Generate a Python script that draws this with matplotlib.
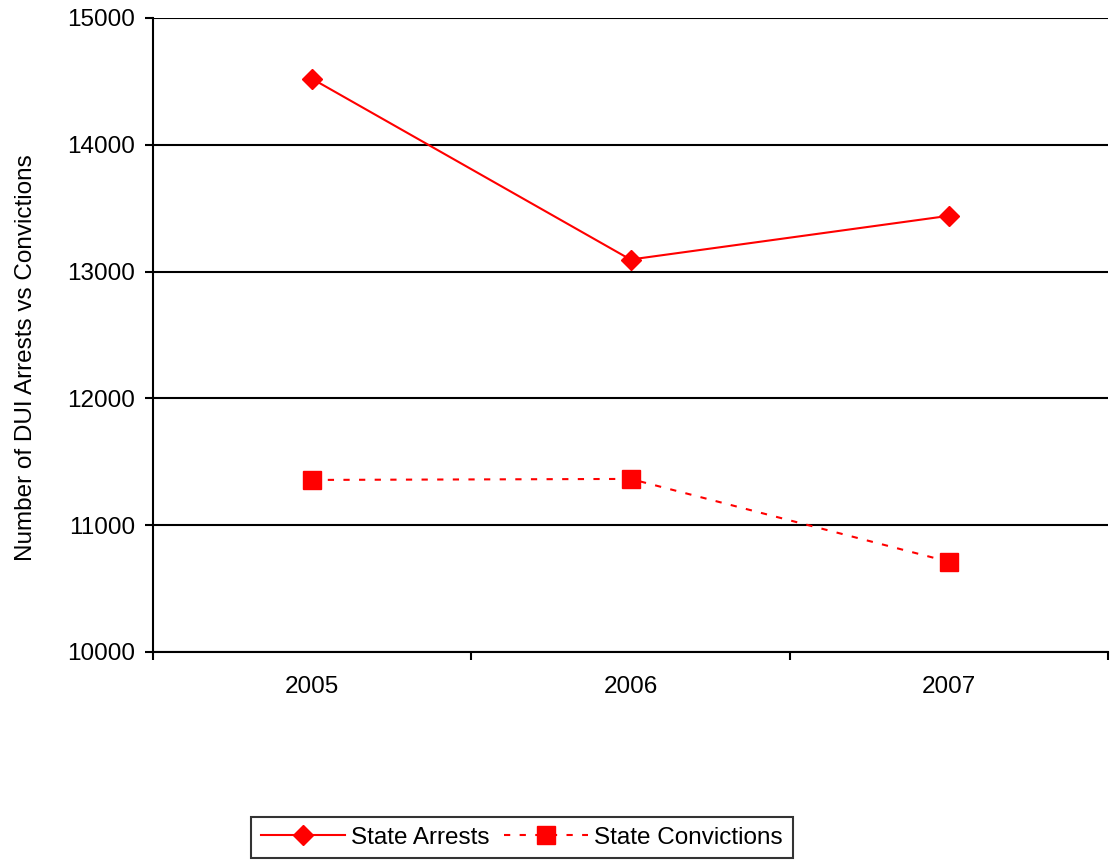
import matplotlib
matplotlib.use("Agg")
import matplotlib.pyplot as plt

plt.rcParams['font.family'] = ['Liberation Sans', 'DejaVu Sans']

years = ["2005", "2006", "2007"]
state_arrests = [14520, 13095, 13440]
state_convictions = [11357, 11365, 10712]
y_ticks = [10000, 11000, 12000, 13000, 14000, 15000]

FS = 17.5

fig = plt.figure(figsize=(11.1, 8.67), dpi=100)
ax = fig.add_axes([153 / 1110, 1 - 652 / 867, (1108 - 153) / 1110, (652 - 18) / 867])

x = list(range(len(years)))
red = "#ff0000"
ax.plot(x, state_arrests, color=red, lw=1.5, marker="D", markersize=10.5,
        markeredgecolor=red, markerfacecolor=red, label="State Arrests", zorder=3)
ax.plot(x, state_convictions, color=red, lw=1.5, linestyle=(0, (3, 4.5)),
        marker="s", markersize=12.5, markeredgecolor=red, markerfacecolor=red,
        label="State Convictions", zorder=3)

ax.set_xlim(-0.5, len(years) - 0.5)
ax.set_ylim(y_ticks[0], y_ticks[-1])
ax.set_yticks(y_ticks)
ax.yaxis.grid(True, color="black", lw=1.5)
ax.set_axisbelow(True)

# category boundaries carry the tick marks; labels sit between them
ax.set_xticks([i - 0.5 for i in range(len(years) + 1)])
ax.set_xticklabels([])
ax.set_xticks(x, minor=True)
ax.set_xticklabels(years, minor=True)
ax.tick_params(axis="x", which="major", direction="out", length=6, width=1.5)
ax.tick_params(axis="x", which="minor", length=0, pad=17, labelsize=FS)
ax.tick_params(axis="y", direction="out", length=6, width=1.5, pad=7, labelsize=FS)

for side in ("top", "right"):
    ax.spines[side].set_visible(False)
for side in ("left", "bottom"):
    ax.spines[side].set_linewidth(1.5)

ax.set_ylabel("Number of DUI Arrests vs Convictions", fontsize=FS)
ax.yaxis.set_label_coords(-0.1215, 0.4645)

leg = fig.legend(loc="center", bbox_to_anchor=(522 / 1110, 1 - 837.5 / 867), ncol=2,
                 fontsize=FS, frameon=True, fancybox=False, edgecolor="black",
                 handlelength=3.46, handletextpad=0.25, columnspacing=0.6,
                 borderpad=0.4, borderaxespad=0)
leg.get_frame().set_linewidth(1.5)

fig.savefig("out.png", dpi=100)
